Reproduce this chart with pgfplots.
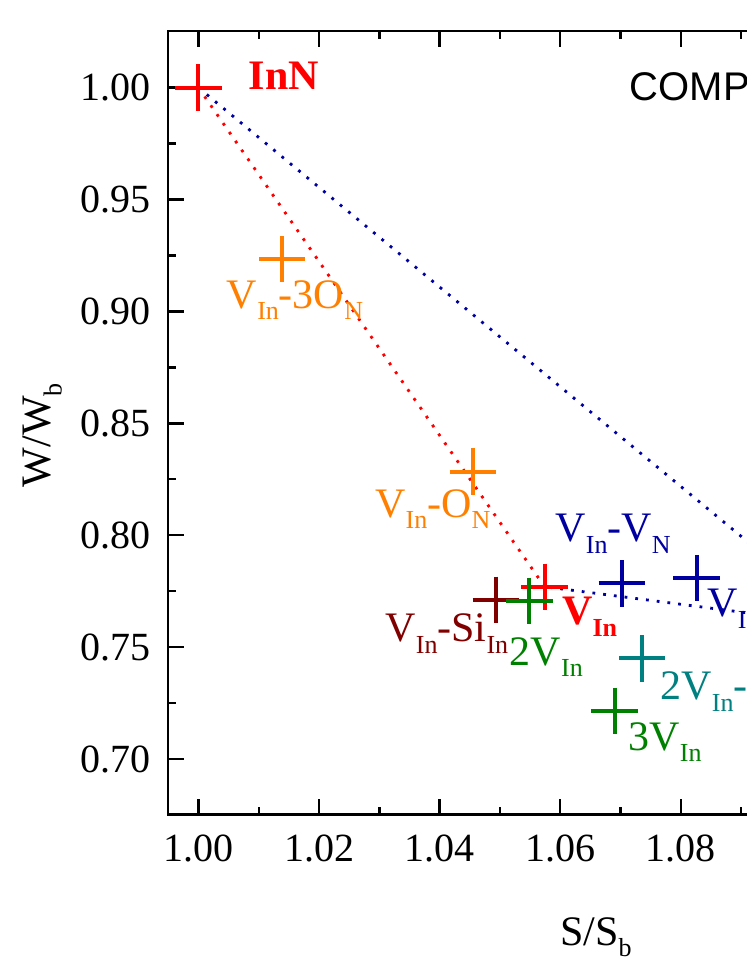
\documentclass[border=0pt]{standalone}
\usepackage{pgfplots}
\pgfplotsset{compat=1.18}
\usepackage{fontspec}
\setmainfont{Liberation Serif}
\newfontfamily\arial{Liberation Sans}

\definecolor{cred}{RGB}{255,0,0}
\definecolor{corange}{RGB}{255,128,0}
\definecolor{cdred}{RGB}{128,0,0}
\definecolor{cgreen}{RGB}{0,128,0}
\definecolor{cblue}{RGB}{0,0,160}
\definecolor{cteal}{RGB}{0,128,128}

% low Origin-style subscript
\newcommand{\sub}[1]{\raisebox{-0.6ex}{\fontsize{6.5}{6.5}\selectfont #1}}

\begin{document}
\begin{tikzpicture}
\begin{axis}[
  scale only axis,
  width=211.05pt, height=195.825pt,
  xmin=0.995, xmax=1.135, ymin=0.6753, ymax=1.0253,
  axis line style={line width=0.6pt},
  xtick={1.00,1.02,1.04,1.06,1.08,1.10,1.12},
  ytick={0.70,0.75,0.80,0.85,0.90,0.95,1.00},
  minor x tick num=1, minor y tick num=1,
  tick align=inside, tick style={black, line width=0.6pt},
  major tick length=3.9pt, minor tick length=1.9pt,
  /pgf/number format/fixed,
  /pgf/number format/fixed zerofill,
  /pgf/number format/precision=2,
  /pgf/number format/assume math mode=true,
  ticklabel style={font=\fontsize{10}{12}\selectfont},
  xticklabel style={yshift=-1.5pt},
  yticklabel style={xshift=-1pt},
  label style={font=\fontsize{10.5}{12}\selectfont},
  xlabel={S/S\sub{b}},
  ylabel={W/W\sub{b}},
  xlabel style={at={(axis description cs:0.5066,-0.167)}, anchor=base},
  ylabel style={at={(axis description cs:-0.1401,0.484)}, anchor=base},
  mark size=5.8pt,
]
  % dotted connection lines
  \addplot[cred, dotted, line width=0.7pt] coordinates {(1.000,1.000)(1.0574,0.7770)};
  \addplot[cblue, dotted, line width=0.7pt] coordinates {(1.000,1.000)(1.108,0.7594)(1.0574,0.7770)};

  % data points
  \addplot[only marks, mark=+, cred, line width=1pt] coordinates {(1.000,1.000)};
  \addplot[only marks, mark=+, corange, line width=1pt] coordinates {(1.0139,0.9233)};
  \addplot[only marks, mark=+, corange, line width=1pt] coordinates {(1.0455,0.8284)};
  \addplot[only marks, mark=+, cdred, line width=1pt] coordinates {(1.0493,0.7711)};
  \addplot[only marks, mark=+, cred, line width=1pt] coordinates {(1.0574,0.7770)};
  \addplot[only marks, mark=+, cgreen, line width=1pt] coordinates {(1.0549,0.7706)};
  \addplot[only marks, mark=+, cblue, line width=1pt] coordinates {(1.0702,0.7785)};
  \addplot[only marks, mark=+, cblue, line width=1pt] coordinates {(1.0826,0.7808)};
  \addplot[only marks, mark=+, cteal, line width=1pt] coordinates {(1.0736,0.7450)};
  \addplot[only marks, mark=+, cgreen, line width=1pt] coordinates {(1.0690,0.7215)};

  % point labels
  \begin{scope}[every node/.style={anchor=base west, inner sep=0pt, font=\fontsize{10.5}{12}\selectfont}]
    \node[cred, font=\fontsize{10.5}{12}\selectfont\bfseries] at (axis cs:1.0082,0.9990) {InN};
    \node[corange] at (axis cs:1.0046,0.9014) {V\sub{In}-3O\sub{N}};
    \node[corange] at (axis cs:1.0292,0.8080) {V\sub{In}-O\sub{N}};
    \node[cblue] at (axis cs:1.0591,0.7971) {V\sub{In}-V\sub{N}};
    \node[cred, font=\fontsize{10.5}{12}\selectfont\bfseries] at (axis cs:1.0602,0.7599) {V\sub{In}};
    \node[cgreen] at (axis cs:1.0515,0.7420) {2V\sub{In}};
    \node[cdred] at (axis cs:1.0309,0.7524) {V\sub{In}-Si\sub{In}};
    \node[cgreen] at (axis cs:1.0712,0.7040) {3V\sub{In}};
    \node[cteal] at (axis cs:1.0765,0.7264) {2V\sub{In}-V\sub{N}};
    \node[cblue] at (axis cs:1.0843,0.7636) {V\sub{In}-2V\sub{N}};
    \node[black, font=\arial\fontsize{10}{12}\selectfont] at (axis cs:1.0714,0.9941) {COMPRESSIVE};
  \end{scope}

  \coordinate (O) at (rel axis cs:0,0);
\end{axis}
% the reference is cut at its right edge
\pgfresetboundingbox
\path[use as bounding box] ([shift={(-42.075pt,-38.175pt)}]O) rectangle ([shift={(144.675pt,203.575pt)}]O);
\end{tikzpicture}
\end{document}
